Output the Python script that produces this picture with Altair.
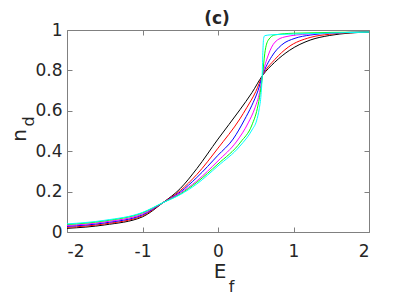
import altair as alt
import pandas as pd

# ---- data ----
black_E = [-2.0, -1.5, -1.0, -0.73, -0.5, -0.28, 0.0, 0.29, 0.45, 0.59, 0.75, 0.95, 1.22, 1.48, 1.75, 2.0]
black_n = [0.018, 0.035, 0.075, 0.145, 0.215, 0.314, 0.46, 0.605, 0.69, 0.775, 0.84, 0.90, 0.95, 0.973, 0.985, 0.99]

red_E = [-2.0, -1.5, -1.0, -0.73, -0.5, -0.28, 0.0, 0.29, 0.38, 0.5, 0.59, 0.755, 0.93, 1.22, 1.48, 2.0]
red_n = [0.023, 0.04, 0.08, 0.145, 0.205, 0.285, 0.415, 0.56, 0.615, 0.695, 0.775, 0.855, 0.915, 0.963, 0.979, 0.99]

blue_E = [-2.0, -1.5, -1.0, -0.73, -0.5, -0.28, 0.0, 0.2, 0.35, 0.446, 0.53, 0.59, 0.71, 0.843, 1.02, 1.22, 1.5, 2.0]
blue_n = [0.028, 0.045, 0.085, 0.145, 0.198, 0.27, 0.38, 0.46, 0.555, 0.625, 0.70, 0.775, 0.868, 0.926, 0.959, 0.975, 0.985, 0.99]

magenta_E = [-2.0, -1.5, -1.0, -0.73, -0.5, -0.28, 0.0, 0.25, 0.4, 0.49, 0.55, 0.59, 0.666, 0.755, 0.887, 1.2, 2.0]
magenta_n = [0.032, 0.05, 0.09, 0.145, 0.193, 0.253, 0.352, 0.45, 0.54, 0.615, 0.69, 0.775, 0.876, 0.94, 0.966, 0.98, 0.99]

green_E = [-2.0, -1.5, -1.0, -0.73, -0.5, -0.28, 0.0, 0.3, 0.45, 0.52, 0.56, 0.59, 0.62, 0.666, 0.755, 1.0, 2.0]
green_n = [0.037, 0.055, 0.095, 0.145, 0.188, 0.246, 0.337, 0.445, 0.53, 0.61, 0.69, 0.775, 0.885, 0.95, 0.976, 0.984, 0.99]

cyan_E = [-2.0, -1.5, -1.0, -0.73, -0.5, -0.28, 0.0, 0.29, 0.45, 0.51, 0.546, 0.57, 0.585, 0.595, 0.605, 0.62, 0.7, 1.0, 1.5, 2.0]
cyan_n = [0.04, 0.058, 0.097, 0.145, 0.185, 0.238, 0.327, 0.425, 0.505, 0.55, 0.61, 0.68, 0.775, 0.90, 0.96, 0.972, 0.976, 0.98, 0.985, 0.99]

series_names = ["black", "red", "blue", "magenta", "green", "cyan"]
series_colors = ["#000000", "#ff0000", "#0000ff", "#ff00ff", "#00ff00", "#00ffff"]
series_E = [black_E, red_E, blue_E, magenta_E, green_E, cyan_E]
series_n = [black_n, red_n, blue_n, magenta_n, green_n, cyan_n]

x_ticks = [-2, -1, 0, 1, 2]
y_ticks = [0, 0.2, 0.4, 0.6, 0.8, 1]

title_text = ["(c)"]
xlab_main = "E"
xlab_sub = "f"
ylab_main = "n"
ylab_sub = "d"

rows = []
for i, (name, es, ns) in enumerate(zip(series_names, series_E, series_n)):
    for e, n in zip(es, ns):
        rows.append({"series": name, "order": i, "E": e, "n": n})
df = pd.DataFrame(rows)

FONT = "DejaVu Sans"
TXT = "#262626"
W, H = 302, 202
xs = alt.Scale(domain=[-2, 2], nice=False, zero=False)
ys = alt.Scale(domain=[0, 1], nice=False, zero=False)

tick_style = dict(domain=False, grid=False, tickColor="#808080", tickSize=5, offset=-5,
                  labelFont=FONT, labelFontSize=17, labelColor=TXT,
                  labelExpr="'' + datum.value",
                  titleFont=FONT, titleColor=TXT, titleFontWeight="normal",
                  titleAlign="center", titleBaseline="middle")

lines = alt.Chart(df).mark_line(strokeWidth=1, interpolate="monotone").encode(
    x=alt.X("E:Q", scale=xs, axis=alt.Axis(
        values=x_ticks, orient="bottom", labelPadding=11,
        title=xlab_main, titleFontSize=20, titleX=152.5, titleY=44.5, titleAngle=0,
        **tick_style)),
    y=alt.Y("n:Q", scale=ys, axis=alt.Axis(
        values=y_ticks, orient="left", labelPadding=5,
        title=ylab_main, titleFontSize=20, titleX=-52.5, titleY=105, titleAngle=270,
        **tick_style)),
    color=alt.Color("series:N", scale=alt.Scale(domain=series_names, range=series_colors), legend=None),
    detail="order:O",
)

mirror = alt.Chart(df).mark_point(opacity=0).encode(
    x=alt.X("E:Q", scale=xs, axis=alt.Axis(
        values=x_ticks, orient="top", labels=False,
        title=xlab_sub, titleFontSize=16, titleX=164, titleY=251, titleAngle=0,
        **tick_style)),
    y=alt.Y("n:Q", scale=ys, axis=alt.Axis(
        values=y_ticks, orient="right", labels=False,
        title=ylab_sub, titleFontSize=16, titleX=-336, titleY=91, titleAngle=270,
        **tick_style)),
)

title = alt.Chart(pd.DataFrame({"t": title_text})).mark_text(
    font=FONT, fontSize=17, fontWeight="bold", color=TXT,
    align="center", baseline="alphabetic"
).encode(text="t:N", x=alt.value(150), y=alt.value(-6))

chart = alt.layer(lines, mirror, title).resolve_axis(
    x="independent", y="independent"
).properties(
    width=W, height=H,
    autosize=alt.AutoSizeParams(type="none"),
    padding={"left": 59, "top": 22, "right": 30, "bottom": 62},
).configure_view(stroke="#808080", strokeWidth=1)

chart.save("out.html", embed_options={"renderer": "svg", "actions": False})
